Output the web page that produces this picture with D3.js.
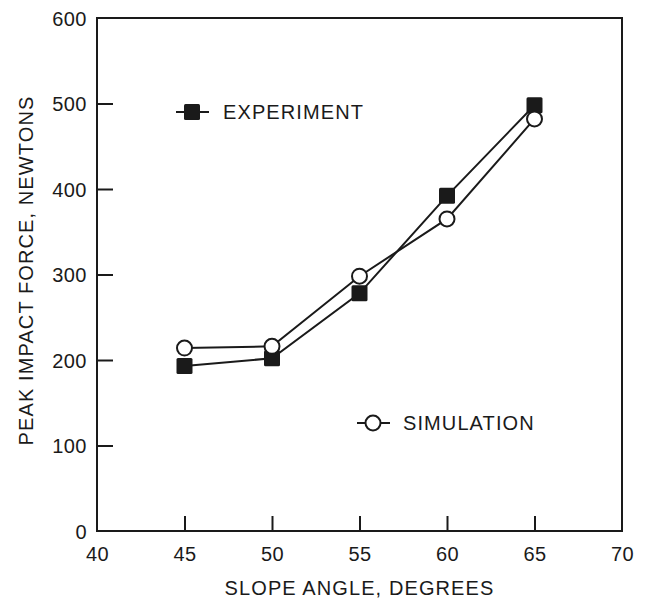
<!DOCTYPE html>
<html>
<head>
<meta charset="utf-8">
<script src="https://cdn.jsdelivr.net/npm/d3@7"></script>
<style>
  body { margin: 0; background: #fff; }
  svg text { font-family: "Liberation Sans", Arial, sans-serif; fill: #1a1a1a; }
</style>
</head>
<body>
<svg width="648" height="603"></svg>
<script>
// data
const slopeAngles = [45, 50, 55, 60, 65];
const experiment = [193, 202, 278, 392, 498];
const simulation = [214, 216, 298, 365, 482];
const xTicks = [40, 45, 50, 55, 60, 65, 70];
const yTicks = [0, 100, 200, 300, 400, 500, 600];

const svg = d3.select('svg');
const ink = '#1a1a1a';

const margin = { top: 18, right: 26, bottom: 72, left: 97 };
const width = 648;
const height = 603;

const x = d3.scaleLinear()
    .domain([40, 70])
    .range([margin.left, width - margin.right]);

const y = d3.scaleLinear()
    .domain([0, 600])
    .range([height - margin.bottom, margin.top]);

// frame
svg.append('rect')
    .attr('x', x(40))
    .attr('y', y(600))
    .attr('width', x(70) - x(40))
    .attr('height', y(0) - y(600))
    .attr('fill', 'none')
    .attr('stroke', ink)
    .attr('stroke-width', 2);

// x axis (ticks point inward)
const gx = svg.append('g')
    .attr('transform', `translate(0, ${y(0)})`)
    .call(d3.axisTop(x).tickValues(xTicks).tickSize(15).tickFormat(d3.format('d')));
gx.select('.domain').remove();
gx.selectAll('line').attr('stroke', ink).attr('stroke-width', 2)
    .filter(d => d === 40 || d === 70).remove();
gx.selectAll('text')
    .attr('y', 30)
    .attr('dy', 0)
    .style('font-size', '20px')
    .style('letter-spacing', '0.5px')
    .attr('fill', ink);

// y axis
const gy = svg.append('g')
    .attr('transform', `translate(${x(40)}, 0)`)
    .call(d3.axisRight(y).tickValues(yTicks).tickSize(16));
gy.select('.domain').remove();
gy.selectAll('line').attr('stroke', ink).attr('stroke-width', 2)
    .filter(d => d === 0 || d === 600).remove();
gy.selectAll('text')
    .attr('x', -10)
    .attr('dy', '0.36em')
    .attr('text-anchor', 'end')
    .style('font-size', '20px')
    .style('letter-spacing', '0.5px')
    .attr('fill', ink);

// axis titles
svg.append('text')
    .attr('x', (x(40) + x(70)) / 2)
    .attr('y', 595)
    .attr('text-anchor', 'middle')
    .style('font-size', '20px')
    .style('letter-spacing', '1.1px')
    .text('SLOPE ANGLE, DEGREES');

svg.append('text')
    .attr('transform', `translate(33, ${(y(0) + y(600)) / 2 - 4}) rotate(-90)`)
    .attr('text-anchor', 'middle')
    .style('font-size', '20px')
    .style('letter-spacing', '1.1px')
    .text('PEAK IMPACT FORCE, NEWTONS');

// series
const line = d3.line()
    .x((d, i) => x(slopeAngles[i]))
    .y(d => y(d));

svg.append('path')
    .datum(experiment)
    .attr('d', line)
    .attr('fill', 'none')
    .attr('stroke', ink)
    .attr('stroke-width', 2);

svg.append('path')
    .datum(simulation)
    .attr('d', line)
    .attr('fill', 'none')
    .attr('stroke', ink)
    .attr('stroke-width', 2);

const sq = 16;
svg.append('g')
    .selectAll('rect')
    .data(experiment)
    .enter().append('rect')
    .attr('x', (d, i) => x(slopeAngles[i]) - sq / 2)
    .attr('y', d => y(d) - sq / 2)
    .attr('width', sq)
    .attr('height', sq)
    .attr('rx', 1.5)
    .attr('fill', ink);

svg.append('g')
    .selectAll('circle')
    .data(simulation)
    .enter().append('circle')
    .attr('cx', (d, i) => x(slopeAngles[i]))
    .attr('cy', d => y(d))
    .attr('r', 7.5)
    .attr('fill', '#fff')
    .attr('stroke', ink)
    .attr('stroke-width', 2);

// legends
const legExp = svg.append('g').attr('transform', 'translate(192, 112)');
legExp.append('line').attr('x1', -16).attr('x2', 17).attr('stroke', ink).attr('stroke-width', 2);
legExp.append('rect').attr('x', -8).attr('y', -8).attr('width', 16).attr('height', 16).attr('rx', 1.5).attr('fill', ink);
legExp.append('text').attr('x', 31).attr('y', 7).style('font-size', '20px').style('letter-spacing', '1.1px').text('EXPERIMENT');

const legSim = svg.append('g').attr('transform', 'translate(373, 423)');
legSim.append('line').attr('x1', -16).attr('x2', 17).attr('stroke', ink).attr('stroke-width', 2);
legSim.append('circle').attr('r', 7.5).attr('fill', '#fff').attr('stroke', ink).attr('stroke-width', 2);
legSim.append('text').attr('x', 30).attr('y', 7).style('font-size', '20px').style('letter-spacing', '1.1px').text('SIMULATION');
</script>
</body>
</html>
